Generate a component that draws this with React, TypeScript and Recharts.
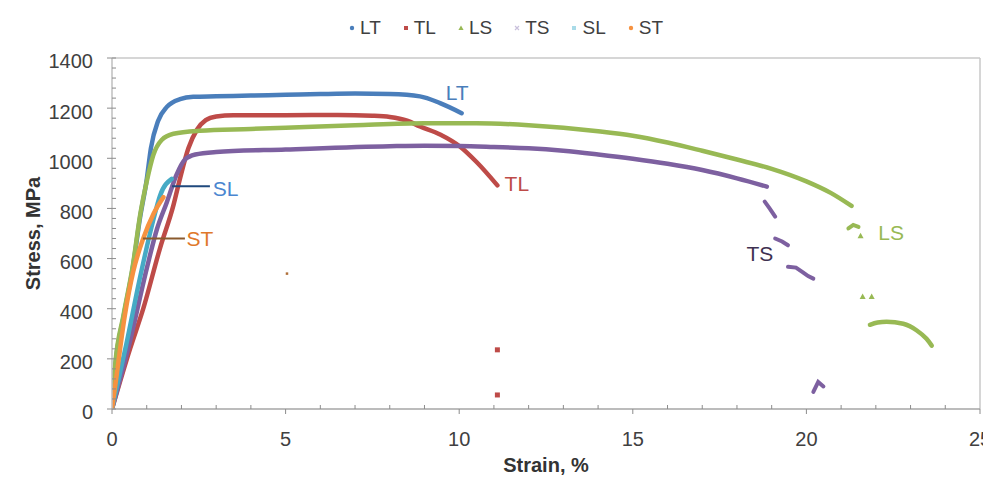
import { ComposedChart, Line, Scatter, XAxis, YAxis, ReferenceLine, ReferenceDot, Label } from 'recharts'

// strain (%) / stress (MPa) readings per specimen orientation
const LT = [[0, 0], [0.09, 165], [0.33, 365], [0.6, 565], [0.81, 765], [1.0, 915], [1.12, 1040], [1.33, 1150], [1.58, 1205], [1.96, 1236], [2.34, 1245], [3, 1247], [4, 1250], [5, 1253], [6, 1256], [7, 1258], [8, 1256], [8.87, 1247], [9.45, 1220], [10.07, 1180]]
const TL = [[0, 0], [0.52, 240], [0.9, 400], [1.38, 640], [1.77, 813], [1.96, 920], [2.2, 1040], [2.45, 1115], [2.7, 1152], [3.0, 1167], [3.5, 1172], [5, 1172], [6.5, 1173], [7.5, 1170], [8, 1165], [8.5, 1150], [8.87, 1127], [9.45, 1095], [10.02, 1047], [10.5, 985], [11.1, 892]]
const LS = [[0, 0], [0.09, 173], [0.33, 373], [0.6, 572], [0.81, 773], [1.0, 907], [1.19, 1013], [1.43, 1073], [1.77, 1098], [2.53, 1110], [4, 1117], [5, 1122], [7, 1132], [9, 1140], [10.5, 1140], [12, 1132], [13, 1122], [14, 1108], [15, 1090], [16, 1063], [17, 1030], [18, 995], [19, 958], [20, 908], [20.7, 862], [21.3, 810]]
const TS = [[0, 0], [0.5, 260], [1.0, 560], [1.3, 720], [1.58, 825], [1.86, 935], [2.1, 995], [2.4, 1015], [3, 1025], [5, 1035], [8, 1048], [9, 1050], [10, 1049], [11, 1045], [12, 1040], [13, 1030], [14, 1015], [15, 998], [16, 978], [17, 953], [18, 920], [18.86, 887]]
const SL = [[0, 0], [0.4, 250], [0.8, 520], [1.2, 760], [1.38, 850], [1.72, 918]]
const ST = [[0, 0], [0.1, 100], [0.37, 373], [0.61, 547], [0.9, 680], [1.2, 780], [1.48, 845]]

// broken-off tail pieces after necking
const TS_frag1 = [[18.8, 827], [18.95, 798], [19.1, 767]]
const TS_frag2 = [[19.1, 680], [19.3, 668], [19.47, 653]]
const TS_frag3 = [[19.47, 567], [19.7, 564], [19.9, 545], [20.05, 530], [20.2, 520]]
const TS_frag4 = [[20.2, 68], [20.34, 108], [20.49, 90]]
const LS_frag1 = [[21.21, 720], [21.35, 734], [21.5, 726]]
const LS_frag2 = [[21.83, 336], [22.05, 345], [22.31, 348], [22.79, 340], [23.18, 313], [23.46, 280], [23.61, 253]]
const LS_pts = [[21.56, 691], [21.62, 449], [21.88, 449]]
const TL_pts = [[11.1, 236], [11.1, 56]]
const ST_pts = [[5.04, 540]]

const xLabels = [0, 5, 10, 15, 20, 25]
const xTicks = [0, 1, 2, 3, 4, 5, 6, 7, 8, 9, 10, 11, 12, 13, 14, 15, 16, 17, 18, 19, 20, 21, 22, 23, 24, 25]
const yLabels = [0, 200, 400, 600, 800, 1000, 1200, 1400]
const yTicks = [0, 40, 80, 120, 160, 200, 240, 280, 320, 360, 400, 440, 480, 520, 560, 600, 640, 680, 720, 760, 800, 840, 880, 920, 960, 1000, 1040, 1080, 1120, 1160, 1200, 1240, 1280, 1320, 1360, 1400]

const C = { LT: '#4a7ebb', TL: '#be4b48', LS: '#98b954', TS: '#7d60a0', SL: '#46aac5', ST: '#f69240' }
const FONT = '"Liberation Sans", Arial, sans-serif'
const TXT = '#404040'

const pts = (a: number[][]) => a.map(([x, y]) => ({ x, y }))

const XTick = ({ x, y, payload }: any) => {
  const ay = y - 23
  const major = xLabels.includes(payload.value)
  return (
    <g>
      <line x1={x} x2={x} y1={ay} y2={major ? ay + 5 : ay - 4} stroke="#8c8c8c" strokeWidth={1} />
      {major && (
        <text x={x} y={y} dy="0.71em" textAnchor="middle" fontSize={20} fill={TXT} fontFamily={FONT}>{payload.value}</text>
      )}
    </g>
  )
}

const YTick = ({ x, y, payload }: any) => {
  const ax = x + 19
  const major = yLabels.includes(payload.value)
  return (
    <g>
      <line x1={major ? ax - 5 : ax} x2={ax + 4} y1={y} y2={y} stroke="#8c8c8c" strokeWidth={1} />
      {major && (
        <text x={x} y={y} dy="0.52em" textAnchor="end" fontSize={20} fill={TXT} fontFamily={FONT}>{payload.value}</text>
      )}
    </g>
  )
}

const square = (col: string, s: number) => (p: any) => <rect x={p.cx - s / 2} y={p.cy - s / 2} width={s} height={s} fill={col} />
const tri = (col: string) => (p: any) => <path d={`M${p.cx},${p.cy - 3} L${p.cx + 3},${p.cy + 2.5} L${p.cx - 3},${p.cy + 2.5}Z`} fill={col} />

const legend = [
  { name: 'LT', color: C.LT, mark: 'circle' },
  { name: 'TL', color: C.TL, mark: 'square' },
  { name: 'LS', color: C.LS, mark: 'tri' },
  { name: 'TS', color: '#c9c0dc', mark: 'x' },
  { name: 'SL', color: '#a9dbe8', mark: 'square' },
  { name: 'ST', color: C.ST, mark: 'circle' },
]

function Marker({ mark, color }: { mark: string; color: string }) {
  return (
    <svg width={6} height={6} style={{ marginRight: 5 }}>
      {mark === 'circle' && <circle cx={3} cy={3} r={2.2} fill={color} />}
      {mark === 'square' && <rect x={1} y={1} width={4} height={4} fill={color} />}
      {mark === 'tri' && <path d="M3,0.5 L5.6,5 L0.4,5Z" fill={color} />}
      {mark === 'x' && <path d="M1,1 L5,5 M5,1 L1,5" stroke={color} strokeWidth={1.2} />}
    </svg>
  )
}

const lineProps = { type: 'monotone' as const, dataKey: 'y', dot: false, strokeWidth: 4.5, isAnimationActive: false, strokeLinecap: 'round' as const }
const fragProps = { ...lineProps, type: 'linear' as const, strokeWidth: 4 }

export default function App() {
  return (
    <div style={{ position: 'relative', width: 991, height: 484, margin: -8, background: '#fff', overflow: 'hidden', fontFamily: FONT }}>
      <div style={{ position: 'absolute', left: 5, top: 5, width: 990, height: 484, borderTop: '2px solid #e0e0e0', borderLeft: '2px solid #e0e0e0' }} />
      <div style={{ position: 'absolute', top: 17, left: 349, display: 'flex', alignItems: 'center', gap: 22, fontSize: 19, color: TXT }}>
        {legend.map(l => (
          <div key={l.name} style={{ display: 'flex', alignItems: 'center' }}>
            <Marker mark={l.mark} color={l.color} />
            <span>{l.name}</span>
          </div>
        ))}
      </div>
      <ComposedChart width={991} height={484} margin={{ top: 58, right: 11, bottom: 35, left: 20 }} style={{ position: 'absolute', left: 0, top: 0 }}>
        <XAxis type="number" dataKey="x" domain={[0, 25]} ticks={xTicks} interval={0} height={40} tickSize={5} tickMargin={18}
          tickLine={false} axisLine={{ stroke: '#a6a6a6', strokeWidth: 1.5 }} tick={<XTick />} allowDataOverflow>
          <Label content={({ viewBox }: any) => (
            <text x={viewBox.x + viewBox.width / 2} y={viewBox.y + 56} textAnchor="middle" dominantBaseline="central" fontSize={20} fontWeight="bold" fill="#333" fontFamily={FONT}>Strain, %</text>
          )} />
        </XAxis>
        <YAxis type="number" dataKey="y" domain={[0, 1400]} ticks={yTicks} interval={0} width={92} tickSize={5} tickMargin={14}
          tickLine={false} axisLine={{ stroke: '#bfbfbf', strokeWidth: 1.5 }} tick={<YTick />} allowDataOverflow>
          <Label content={({ viewBox }: any) => {
            const cx = viewBox.x + 13
            const cy = viewBox.y + viewBox.height / 2
            return (
              <text x={cx} y={cy} transform={`rotate(-90 ${cx} ${cy})`} textAnchor="middle" dominantBaseline="central" fontSize={20} fontWeight="bold" fill="#333" fontFamily={FONT}>Stress, MPa</text>
            )
          }} />
        </YAxis>
        <ReferenceLine y={1400} stroke="#c8c8c8" strokeWidth={1.5} />
        <ReferenceLine x={25} stroke="#c8c8c8" strokeWidth={1.5} />

        <Line {...lineProps} data={pts(LT)} stroke={C.LT} />
        <Line {...lineProps} data={pts(TL)} stroke={C.TL} />
        <Scatter data={pts(TL_pts)} dataKey="y" fill={C.TL} shape={square(C.TL, 5)} isAnimationActive={false} />
        <Line {...lineProps} data={pts(LS)} stroke={C.LS} />
        <Line {...fragProps} data={pts(LS_frag1)} stroke={C.LS} />
        <Line {...lineProps} data={pts(LS_frag2)} stroke={C.LS} />
        <Scatter data={pts(LS_pts)} dataKey="y" fill={C.LS} shape={tri(C.LS)} isAnimationActive={false} />
        <Line {...lineProps} data={pts(TS)} stroke={C.TS} />
        <Line {...fragProps} data={pts(TS_frag1)} stroke={C.TS} />
        <Line {...fragProps} data={pts(TS_frag2)} stroke={C.TS} />
        <Line {...fragProps} data={pts(TS_frag3)} stroke={C.TS} />
        <Line {...fragProps} data={pts(TS_frag4)} stroke={C.TS} />
        <Line {...lineProps} data={pts(SL)} stroke={C.SL} />
        <Line {...lineProps} data={pts(ST)} stroke={C.ST} />
        <Scatter data={pts(ST_pts)} dataKey="y" fill={C.ST} shape={square('#b0703a', 2.5)} isAnimationActive={false} />

        <ReferenceLine segment={[{ x: 1.73, y: 888 }, { x: 2.82, y: 888 }]} stroke="#1f497d" strokeWidth={2} />
        <ReferenceLine segment={[{ x: 0.89, y: 680 }, { x: 2.1, y: 680 }]} stroke="#8a5a2e" strokeWidth={2} />

        <ReferenceDot x={9.94} y={1262} r={0} label={{ value: 'LT', position: 'center', fill: C.LT, fontSize: 21, fontFamily: FONT }} />
        <ReferenceDot x={11.66} y={900} r={0} label={{ value: 'TL', position: 'center', fill: C.TL, fontSize: 21, fontFamily: FONT }} />
        <ReferenceDot x={18.66} y={620} r={0} label={{ value: 'TS', position: 'center', fill: '#3f3151', fontSize: 21, fontFamily: FONT }} />
        <ReferenceDot x={22.44} y={704} r={0} label={{ value: 'LS', position: 'center', fill: C.LS, fontSize: 21, fontFamily: FONT }} />
        <ReferenceDot x={3.27} y={880} r={0} label={{ value: 'SL', position: 'center', fill: '#4a86d0', fontSize: 21, fontFamily: FONT }} />
        <ReferenceDot x={2.53} y={680} r={0} label={{ value: 'ST', position: 'center', fill: '#e0782a', fontSize: 21, fontFamily: FONT }} />
      </ComposedChart>
    </div>
  )
}
